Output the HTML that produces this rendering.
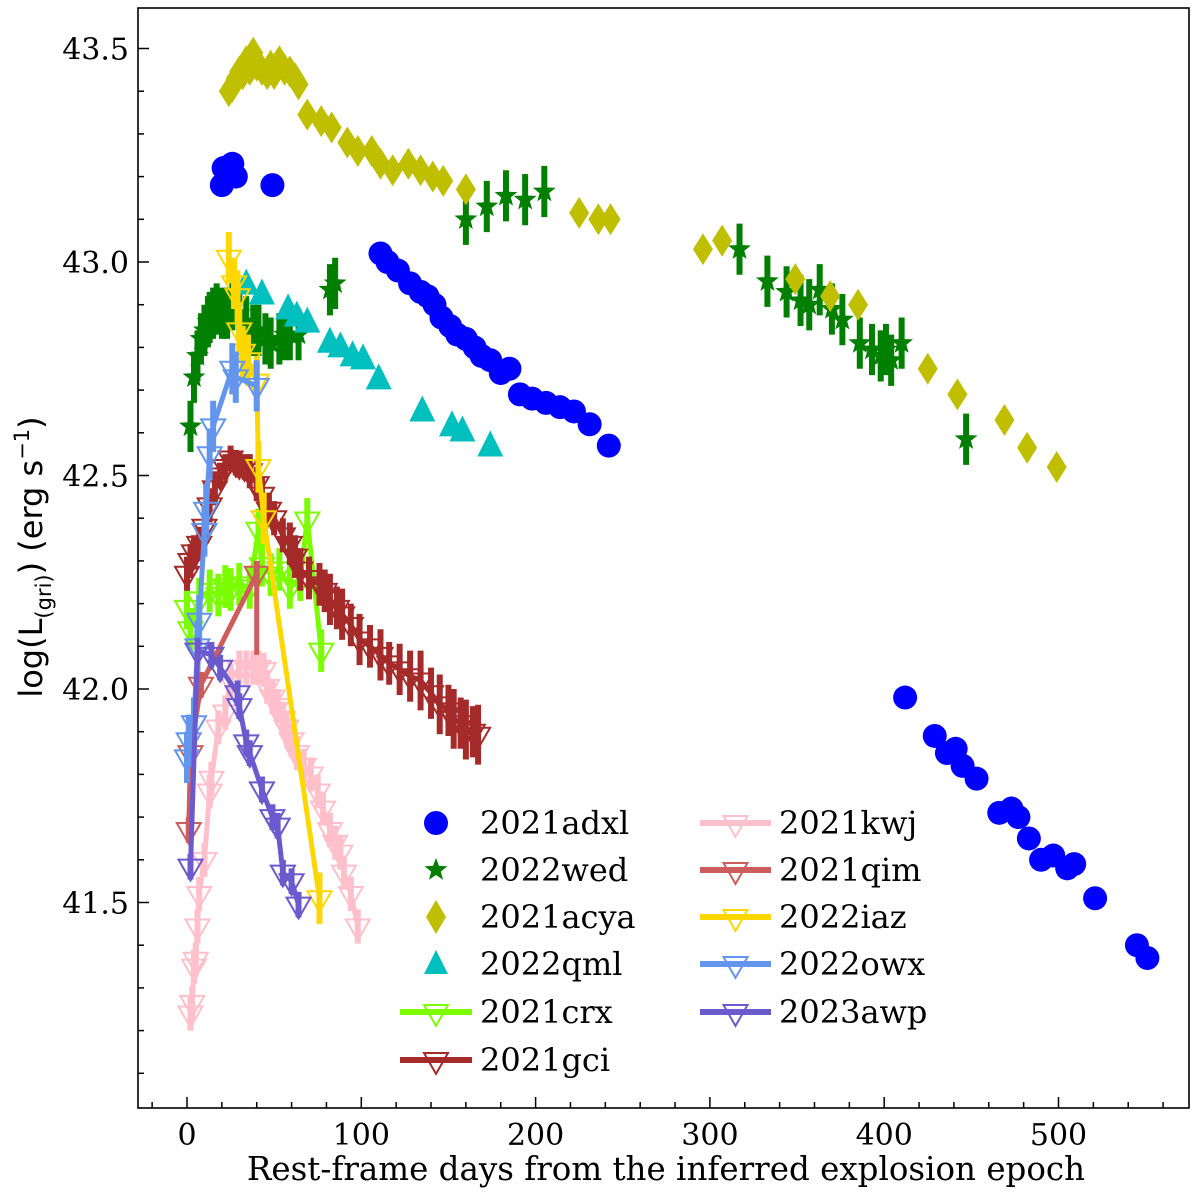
<!DOCTYPE html>
<html><head><meta charset="utf-8"><style>
html,body{margin:0;padding:0;background:#fff;}
svg{display:block;}
text{font-family:"DejaVu Serif","Liberation Serif",serif;}
</style></head><body>
<svg id="chart" width="1200" height="1199" viewBox="0 0 1200 1199" xmlns="http://www.w3.org/2000/svg">
<g id="marks"></g>
<rect x="138" y="8" width="1051" height="1100" fill="none" stroke="#000" stroke-width="1.6"/>
<g id="axes"></g>
<text x="666" y="1180" font-size="32.5" text-anchor="middle">Rest-frame days from the inferred explosion epoch</text>
<text transform="translate(42,557) rotate(-90)" font-size="32" text-anchor="middle" style="font-family:'DejaVu Sans','Liberation Sans',sans-serif">log(L<tspan font-size="21" dy="9">(gri)</tspan><tspan dy="-9">) (erg s</tspan><tspan font-size="21" dy="-13">−1</tspan><tspan dy="13">)</tspan></text>
<g id="legend"></g>
</svg>
<script>
// ---- data ----
const adxlDays = [20,21,26,28,49,111,115,121,128,134,138,142,146,151,155,160,165,169,174,180,185,191,198,206,214,222,231,242,412,429,436,441,445,453,466,473,477,483,490,497,505,509,521,545,551];
const adxlLum  = [43.18,43.22,43.23,43.20,43.18,43.02,43.00,42.98,42.95,42.93,42.92,42.90,42.87,42.85,42.83,42.82,42.80,42.78,42.77,42.74,42.75,42.69,42.68,42.67,42.66,42.65,42.62,42.57,41.98,41.89,41.85,41.86,41.82,41.79,41.71,41.72,41.70,41.65,41.60,41.61,41.58,41.59,41.51,41.40,41.37];
const wedDays = [2,4,6,8,10,12,13,15,17,20,23,26,30,34,38,41,45,48,53,56,59,64,82,85,160,172,183,194,205,317,333,344,352,357,363,370,376,386,393,398,401,404,410,447];
const wedLum  = [42.615,42.73,42.78,42.82,42.84,42.86,42.87,42.88,42.89,42.88,42.88,42.90,42.88,42.86,42.84,42.84,42.82,42.81,42.82,42.83,42.83,42.83,42.935,42.95,43.10,43.13,43.155,43.146,43.165,43.03,42.955,42.93,42.91,42.90,42.935,42.89,42.865,42.81,42.795,42.78,42.795,42.77,42.81,42.585];
const acyaDays = [24,26,28,30,32,34,36,38,40,43,46,48,50,53,56,59,62,64,69,77,83,92,98,106,111,118,127,134,141,147,160,225,236,243,296,307,349,369,385,425,442,469,482,499];
const acyaLum  = [43.40,43.41,43.43,43.446,43.44,43.47,43.45,43.49,43.46,43.45,43.44,43.46,43.44,43.47,43.45,43.446,43.43,43.416,43.345,43.33,43.315,43.28,43.26,43.26,43.23,43.215,43.23,43.215,43.20,43.19,43.17,43.115,43.10,43.10,43.03,43.05,42.96,42.92,42.90,42.75,42.69,42.63,42.565,42.52];
const qmlDays = [34,43,58,63,69,82,88,95,101,110,135,152,158,174];
const qmlLum  = [42.947,42.924,42.889,42.872,42.858,42.811,42.80,42.779,42.772,42.725,42.65,42.615,42.603,42.568];
const crxDays = [0,2,7,13,18,22,25,30,36,41,43,48,53,59,65,69,77];
const crxLum  = [42.19,42.14,42.21,42.23,42.22,42.24,42.233,42.245,42.238,42.373,42.29,42.268,42.28,42.238,42.256,42.397,42.09];
const gciDays = [0,2,4,7,10,13,16,19,22,25,28,30,33,36,40,43,47,50,55,59,62,65,70,76,79,82,86,89,94,99,105,111,116,122,128,134,140,145,150,153,157,160,164,167];
const gciLum  = [42.27,42.30,42.32,42.34,42.38,42.43,42.47,42.50,42.52,42.54,42.53,42.525,42.52,42.51,42.48,42.455,42.42,42.40,42.36,42.34,42.31,42.28,42.26,42.245,42.23,42.21,42.19,42.175,42.15,42.116,42.10,42.08,42.06,42.046,42.03,42.02,41.99,41.964,41.95,41.93,41.92,41.905,41.90,41.893];
const gciErr  = [0.04,0.04,0.04,0.04,0.04,0.04,0.04,0.03,0.03,0.03,0.03,0.03,0.03,0.04,0.04,0.04,0.04,0.04,0.04,0.05,0.05,0.05,0.05,0.05,0.05,0.06,0.05,0.06,0.05,0.06,0.05,0.06,0.05,0.06,0.06,0.07,0.06,0.07,0.06,0.07,0.06,0.07,0.06,0.07];
const kwjDays = [2,3,4,5,6,7,10,13,14,18,22,25,30,34,38,41,44,46,49,52,55,57,60,63,67,71,75,78,82,85,88,90,94,98];
const kwjLum  = [41.24,41.265,41.35,41.366,41.444,41.52,41.60,41.76,41.79,41.91,41.945,42.02,42.05,42.05,42.05,42.05,42.045,42.005,41.98,41.96,41.93,41.91,41.88,41.85,41.82,41.80,41.76,41.72,41.67,41.64,41.617,41.57,41.52,41.444];
const qimDays = [1,2,8,40];
const qimLum  = [41.67,41.85,42.01,42.27];
const iazDays = [24,27,29,30,32,35,40,41,44,76];
const iazLum  = [43.01,42.95,42.92,42.84,42.79,42.77,42.72,42.52,42.40,41.51];
const owxDays = [0,1,4,6,7,10,11,13,15,26,28,40];
const owxLum  = [41.84,41.88,41.92,42.10,42.16,42.37,42.42,42.55,42.615,42.75,42.73,42.71];
const awpDays = [2,6,14,19,29,30,34,36,43,49,52,55,60,64];
const awpLum  = [41.584,42.09,42.08,42.05,41.99,41.96,41.875,41.85,41.765,41.70,41.68,41.57,41.55,41.495];
const xTicks = [0,100,200,300,400,500];
const yTicks = [41.5,42.0,42.5,43.0,43.5];
const yTickLabels = ["41.5","42.0","42.5","43.0","43.5"];

// ---- scales ----
function X(d){ return 187 + d*1.743; }
function Y(v){ return 262 - (v-43)*427; }
const NS="http://www.w3.org/2000/svg";
const marks=document.getElementById('marks');
const axes=document.getElementById('axes');
const legend=document.getElementById('legend');
function mk(tag,attrs,parent){ const e=document.createElementNS(NS,tag); for(const k in attrs) e.setAttribute(k,attrs[k]); parent.appendChild(e); return e; }
function starPath(cx,cy,R){ let p=''; for(let i=0;i<10;i++){ const r=i%2?R*0.42:R; const a=-Math.PI/2+i*Math.PI/5; p+=(i?'L':'M')+(cx+r*Math.cos(a)).toFixed(1)+','+(cy+r*Math.sin(a)).toFixed(1);} return p+'Z'; }
function downTri(cx,cy,s){ const h=s*0.87; return `M${cx-s/2},${cy-h/3}L${cx+s/2},${cy-h/3}L${cx},${cy+2*h/3}Z`; }

// scatter series
adxlDays.forEach((d,i)=>{ const c=mk('circle',{cx:X(d),cy:Y(adxlLum[i]),r:12,fill:'#0000ff'},marks);

 });
wedDays.forEach((d,i)=>{ const g=mk('g',{},marks);


mk('line',{x1:X(d),x2:X(d),y1:Y(wedLum[i]+0.06),y2:Y(wedLum[i]-0.06),stroke:'#007f00','stroke-width':6},g);
mk('path',{d:starPath(X(d),Y(wedLum[i]),12),fill:'#007f00'},g); });
acyaDays.forEach((d,i)=>{ const x=X(d),y=Y(acyaLum[i]); const p=mk('path',{d:`M${x},${y-16}L${x+10},${y}L${x},${y+16}L${x-10},${y}Z`,fill:'#bfbf00'},marks);

 });
qmlDays.forEach((d,i)=>{ const x=X(d),y=Y(qmlLum[i]); const p=mk('path',{d:`M${x},${y-16}L${x+13},${y+10}L${x-13},${y+10}Z`,fill:'#00bfbf'},marks);

 });

// line series
function lineSeries(name,days,lum,err,color){
  const g=mk('g',{},marks);
  
  
  days.forEach((d,i)=>{ const e=Array.isArray(err)?err[i]:err; mk('line',{x1:X(d),x2:X(d),y1:Y(lum[i]+e),y2:Y(lum[i]-e),stroke:color,'stroke-width':6},g); });
  mk('polyline',{points:days.map((d,i)=>X(d)+','+Y(lum[i])).join(' '),fill:'none',stroke:color,'stroke-width':5,'stroke-linejoin':'round'},g);
  days.forEach((d,i)=>{ const t=mk('path',{d:downTri(X(d),Y(lum[i]),24),fill:'none',stroke:color,'stroke-width':2},g);
  
   });
}
lineSeries('crx',crxDays,crxLum,0.05,'#7cfc00');
lineSeries('gci',gciDays,gciLum,gciErr,'#a52a2a');
lineSeries('kwj',kwjDays,kwjLum,0.04,'#ffc0cb');
lineSeries('qim',qimDays,qimLum,0.03,'#cd5c5c');
lineSeries('iaz',iazDays,iazLum,0.06,'#ffd700');
lineSeries('owx',owxDays,owxLum,0.06,'#6495ed');
lineSeries('awp',awpDays,awpLum,0.03,'#6a5acd');
// qim error bar at last point
mk('line',{x1:X(40),x2:X(40),y1:Y(42.27),y2:Y(42.08),stroke:'#cd5c5c','stroke-width':5},marks);

// axes ticks
for(let d=-20; d<=560; d+=20){ const major=d%100===0; mk('line',{x1:X(d),x2:X(d),y1:1108,y2:major?1097:1102,stroke:'#000','stroke-width':1.5},axes); }
xTicks.forEach(d=>{ const t=mk('text',{x:X(d),y:1145,'font-size':30,'text-anchor':'middle'},axes); t.textContent=d;

 });
for(let k=411;k<=435;k++){ const v=k/10; const major=k%5===0; mk('line',{x1:138,x2:major?149:144,y1:Y(v),y2:Y(v),stroke:'#000','stroke-width':1.5},axes); }
yTicks.forEach((v,i)=>{ const t=mk('text',{x:129,y:Y(v)+11,'font-size':30,'text-anchor':'end'},axes); t.textContent=yTickLabels[i];

 });

// legend
const rows=[823,870,917,964,1012,1060];
function legText(x,y,s){ const t=mk('text',{x:x,y:y+11,'font-size':32},legend); t.textContent=s; return t; }
function legEntry(name){ const g=mk('g',{},legend);   return g; }
let g;
g=legEntry('2021adxl'); mk('circle',{cx:436,cy:rows[0],r:12,fill:'#0000ff'},g); legText(480,rows[0],'2021adxl');
g=legEntry('2022wed'); mk('path',{d:starPath(436,rows[1],12),fill:'#007f00'},g); legText(480,rows[1],'2022wed');
g=legEntry('2021acya'); mk('path',{d:`M436,${rows[2]-17}L446,${rows[2]}L436,${rows[2]+17}L426,${rows[2]}Z`,fill:'#bfbf00'},g); legText(480,rows[2],'2021acya');
g=legEntry('2022qml'); mk('path',{d:`M436,${rows[3]-14}L448,${rows[3]+10}L424,${rows[3]+10}Z`,fill:'#00bfbf'},g); legText(480,rows[3],'2022qml');
function legLine(x1,x2,y,color,label,tx){ const gg=legEntry(label); mk('line',{x1:x1,x2:x2,y1:y,y2:y,stroke:color,'stroke-width':6},gg); mk('path',{d:downTri((x1+x2)/2,y,24),fill:'none',stroke:color,'stroke-width':2},gg); legText(tx,y,label); }
legLine(400,472,rows[4],'#7cfc00','2021crx',480);
legLine(400,472,rows[5],'#a52a2a','2021gci',480);
legLine(700,771,rows[0],'#ffc0cb','2021kwj',779);
legLine(700,771,rows[1],'#cd5c5c','2021qim',779);
legLine(700,771,rows[2],'#ffd700','2022iaz',779);
legLine(700,771,rows[3],'#6495ed','2022owx',779);
legLine(700,771,rows[4],'#6a5acd','2023awp',779);
</script>
</body></html>
